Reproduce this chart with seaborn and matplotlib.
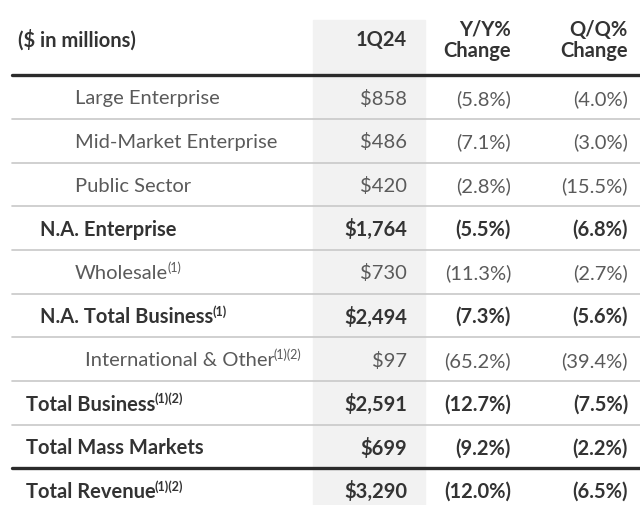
import matplotlib
matplotlib.use("Agg")
import matplotlib.pyplot as plt
import seaborn as sns

sns.set_theme(style="white")
plt.rcParams['font.family'] = ['Lato', 'DejaVu Sans']

# table data
labels = ["Large Enterprise", "Mid-Market Enterprise", "Public Sector", "N.A. Enterprise",
          "Wholesale", "N.A. Total Business", "International & Other", "Total Business",
          "Total Mass Markets", "Total Revenue"]
notes = ["", "", "", "", "(1)", "(1)", "(1)(2)", "(1)(2)", "", "(1)(2)"]
values = ["$858", "$486", "$420", "$1,764", "$730", "$2,494", "$97", "$2,591", "$699", "$3,290"]
yy_change = ["(5.8%)", "(7.1%)", "(2.8%)", "(5.5%)", "(11.3%)", "(7.3%)", "(65.2%)", "(12.7%)", "(9.2%)", "(12.0%)"]
qq_change = ["(4.0%)", "(3.0%)", "(15.5%)", "(6.8%)", "(2.7%)", "(5.6%)", "(39.4%)", "(7.5%)", "(2.2%)", "(6.5%)"]
bold_rows = [False, False, False, True, False, True, False, True, True, True]
indent = [75, 75, 75, 40, 75, 40, 85, 26, 26, 26]
headers = ["1Q24", "Y/Y%\nChange", "Q/Q%\nChange"]

fig = plt.figure(figsize=(6.4, 5.05), dpi=100)
ax = fig.add_axes([0, 0, 1, 1])
ax.set_xlim(0, 640)
ax.set_ylim(9.34, -2.22)
ax.axis("off")

dark = "#333333"
light = "#5a5a5a"
fs = 14.5
col_right = [407, 511, 628]

# shaded 1Q24 column
ax.axvspan(313, 425, ymin=0, ymax=0.96, color="#f2f2f2", zorder=0)

# header
ax.text(18, -1.3, "($ in millions)", fontsize=fs, fontweight="bold", color=dark, va="center")
for x, h in zip(col_right, headers):
    ax.text(x, -1.3, h, fontsize=fs, fontweight="bold", color=dark, va="center", ha="right",
            linespacing=1.05)

# separators
ax.plot([12, 640], [-0.5, -0.5], color="#2b2b2b", lw=2.4, zorder=2)
for i in range(len(labels) - 1):
    if i == 8:
        ax.plot([12, 640], [i + 0.5, i + 0.5], color="#2b2b2b", lw=2.4, zorder=2)
    else:
        ax.plot([12, 640], [i + 0.5, i + 0.5], color="#c8c8c8", lw=1.2, zorder=2)

fig.canvas.draw()
renderer = fig.canvas.get_renderer()

for i, lab in enumerate(labels):
    w = "bold" if bold_rows[i] else "normal"
    c = dark if bold_rows[i] else light
    y = i + 0.04
    t = ax.text(indent[i], y, lab, fontsize=fs, fontweight=w, color=c, va="center")
    if notes[i]:
        bb = t.get_window_extent(renderer).transformed(ax.transData.inverted())
        ax.text(bb.x1 - 1, y - 0.13, notes[i], fontsize=9, fontweight=w, color=c, va="center")
    for x, v in zip(col_right, [values[i], yy_change[i], qq_change[i]]):
        ax.text(x, y, v, fontsize=fs, fontweight=w, color=c, va="center", ha="right")

fig.savefig("out.png", dpi=100)
